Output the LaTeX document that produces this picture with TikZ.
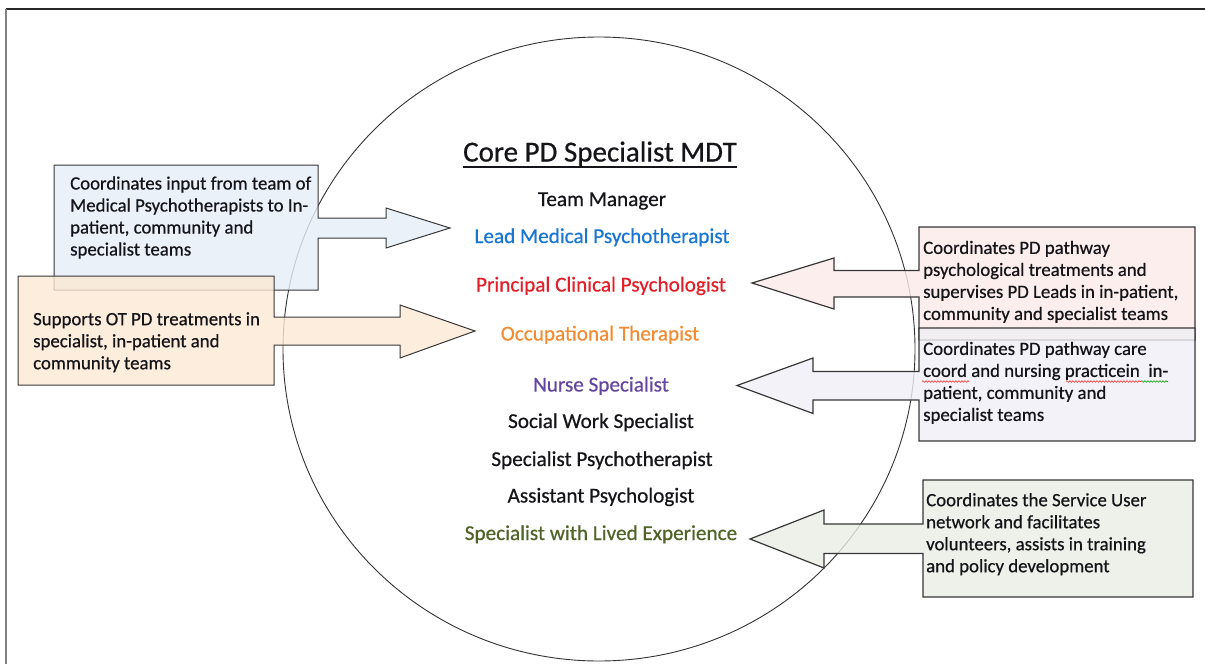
\documentclass[tikz,border=0pt]{standalone}
\usepackage{fontspec}
\setmainfont{Carlito}[FakeBold=0.6]
\usetikzlibrary{decorations.pathmorphing}
\definecolor{linedark}{RGB}{55,55,55}
\definecolor{textdark}{RGB}{20,20,25}
\definecolor{fillblue}{RGB}{230,238,248}
\definecolor{fillorange}{RGB}{252,232,212}
\definecolor{fillpink}{RGB}{250,234,232}
\definecolor{filllav}{RGB}{240,239,246}
\definecolor{fillgreen}{RGB}{233,237,228}
\definecolor{cblue}{RGB}{25,118,210}
\definecolor{cred}{RGB}{228,30,40}
\definecolor{corange}{RGB}{242,140,50}
\definecolor{cpurple}{RGB}{100,70,160}
\definecolor{cgreen}{RGB}{80,100,40}
\begin{document}
\begin{tikzpicture}[x=1pt,y=-1pt,
  callout/.style={draw=linedark, line width=1pt, fill opacity=0.8, line join=miter},
  boxtext/.style={anchor=north west, inner sep=0pt, align=left, text=textdark,
    font=\fontsize{18.8}{22}\selectfont},
  role/.style={anchor=base, inner sep=0pt, text=textdark, font=\fontsize{21.2}{24}\selectfont},
  squig/.style={decorate, decoration={snake, amplitude=0.8pt, segment length=3pt}, line width=0.6pt}
]
\useasboundingbox (0,0) rectangle (1205,664);
% page frame
\draw[line width=1.3pt, color=black!85] (6,9) -- (1205,9);
\draw[line width=1.3pt, color=black!50] (6,9) -- (6,664);
% circle
\draw[line width=0.9pt, color=black!80] (599,349) ellipse [x radius=316, y radius=312];

% title and roles
\node[role, font=\fontsize{29}{32}\selectfont] (title) at (600,161.5) {Core PD Specialist MDT};
\draw[line width=1.3pt, textdark] ([yshift=-5.5pt]title.base west) -- ([yshift=-5.5pt]title.base east);
\node[role] (tm) at (602,206) {Team Manager};
\node[role, text=cblue] (lmp) at (602,243) {Lead Medical Psychotherapist};
\node[role, text=cred] (pcp) at (601,291.5) {Principal Clinical Psychologist};
\node[role, text=corange] (ot) at (600,340.5) {Occupational Therapist};
\node[role, text=cpurple] (ns) at (601,391.5) {Nurse Specialist};
\node[role] (sws) at (601,428) {Social Work Specialist};
\node[role] (sp) at (602,466) {Specialist Psychotherapist};
\node[role] (ap) at (601,502.5) {Assistant Psychologist};
\node[role, text=cgreen] (sle) at (601,540) {Specialist with Lived Experience};

% left callouts
\path[callout, fill=fillblue] (54,165) -- (318,165) -- (318,218) -- (386,218) -- (386,208) -- (450,228)
  -- (386,248) -- (386,238) -- (318,238) -- (318,290) -- (54,290) -- cycle;
\path[callout, fill=fillorange] (18,276) -- (274,276) -- (274,317) -- (400,317) -- (400,305) -- (475,331)
  -- (400,358) -- (400,345) -- (274,345) -- (274,385) -- (18,385) -- cycle;
% right callouts
\path[callout, fill=fillpink, line width=1.2pt] (919,227) -- (1195,227) -- (1195,340) -- (919,340) -- (919,297)
  -- (834,297) -- (834,309) -- (752,283) -- (834,258) -- (834,270.5) -- (919,270.5) -- cycle;
\path[callout, fill=filllav, line width=1.2pt] (919,328) -- (1195,328) -- (1195,441) -- (919,441) -- (919,400)
  -- (813,400) -- (813,413.5) -- (737,385.5) -- (813,358) -- (813,371.5) -- (919,371.5) -- cycle;
\path[callout, fill=fillgreen, line width=1.2pt] (923,480) -- (1193,480) -- (1193,597) -- (923,597) -- (923,553.5)
  -- (824,553.5) -- (824,568) -- (750,539) -- (824,510) -- (824,524) -- (923,524) -- cycle;

% box texts
\node[boxtext] (tblue) at (70,174.3) {\rule{0pt}{15pt}Coordinates input from team of\\Medical Psychotherapists to In-\\patient, community and\\specialist teams};
\node[boxtext] (torange) at (33,310) {\rule{0pt}{15pt}Supports OT PD treatments in\\specialist, in-patient and\\community teams};
\node[boxtext] (tpink) at (923,238.7) {\rule{0pt}{15pt}Coordinates PD pathway\\psychological treatments and\\supervises PD Leads in in-patient,\\community and specialist teams};
\node[boxtext] (tlav) at (923,339.7) {\rule{0pt}{15pt}Coordinates PD pathway care\\coord and nursing practicein~~in-\\patient, community and\\specialist teams};
\node[boxtext] (tgreen) at (926,491) {\rule{0pt}{15pt}Coordinates the Service User\\network and facilitates\\volunteers, assists in training\\and policy development};

% spell-check marks
\coordinate (sq1a) at (922,381.5); \coordinate (sq1b) at (969,381.5);
\coordinate (sq2a) at (1066,381.5); \coordinate (sq2b) at (1141,381.5);
\coordinate (sq3b) at (1168,381.5);
\draw[squig, red!85] (sq1a) -- (sq1b);
\draw[squig, red!85] (sq2a) -- (sq2b);
\draw[squig, green!60!black] (sq2b) -- (sq3b);
\end{tikzpicture}
\end{document}
